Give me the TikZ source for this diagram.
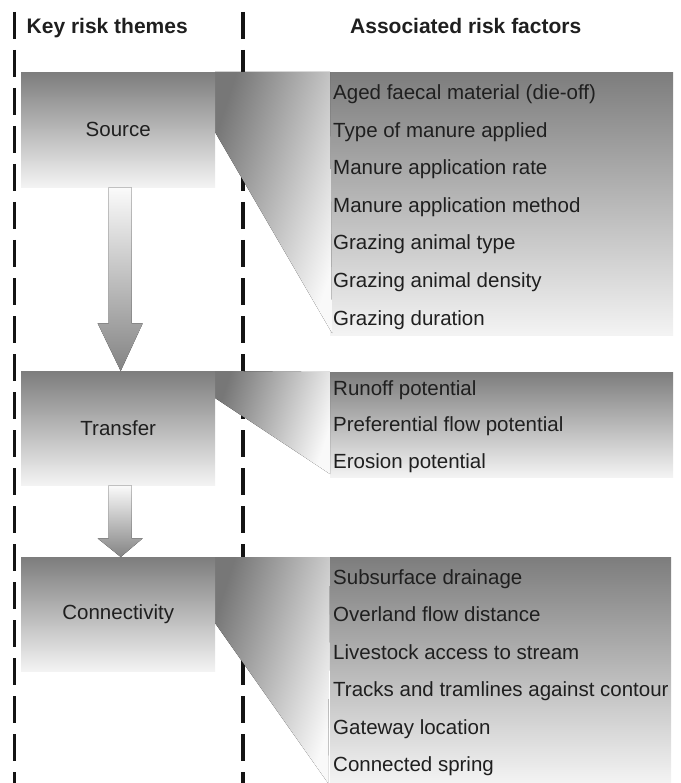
\documentclass[tikz,border=0pt]{standalone}
\usepackage{fontspec}
\setmainfont{Liberation Sans}
\usetikzlibrary{calc}
\definecolor{txt}{gray}{0.12}
\definecolor{dk}{gray}{0.49}
\definecolor{lt}{gray}{0.955}
\tikzset{
  themebox/.style={inner sep=0pt, anchor=north west, minimum width=194pt,
    top color=dk, bottom color=lt, text=txt, font=\fontsize{20.5}{24}\selectfont},
  panel/.style={inner sep=0pt, anchor=north west, minimum width=343pt,
    top color=dk, bottom color=lt},
  wedge/.style={top color=dk!95!black, bottom color=lt!50!white, shading angle=72},
  flowarrow/.style={top color=lt!40!white, bottom color=dk!95},
  factor/.style={anchor=base west, inner sep=0pt, text=txt, font=\fontsize{20.5}{24}\selectfont},
  header/.style={anchor=base west, inner sep=0pt, text=txt, font=\fontsize{21}{25}\selectfont\bfseries},
  divider/.style={draw=black!92, dash pattern=on 27pt off 11pt}
}
\begin{document}
\begin{tikzpicture}[x=1pt,y=-1pt]
\useasboundingbox (0,0) rectangle (680,783);
% dividers
\coordinate (la) at (14,12); \coordinate (lb) at (14,783);
\coordinate (ma) at (243,12); \coordinate (mb) at (243,783);
\draw[divider, line width=3pt] (la) -- (lb);
\draw[divider, line width=4pt] (ma) -- (mb);
% headers
\node[header] (h1) at (26.5,34) {Key risk themes};
\node[header] (h2) at (350,34) {Associated risk factors};
% panels
\node[panel, minimum height=263pt] (p1) at (330,72) {};
\node[panel, minimum height=105pt] (p2) at (330,372) {};
\node[panel, minimum height=226pt, minimum width=341pt] (p3) at (330,557) {};
% wedges
\fill[wedge] (215,72) -- (p1.north west) -- (332,333) -- (215,132) -- cycle;
\fill[wedge] (215,371) -- (p2.north west) -- (330,474) -- (215,398) -- cycle;
\fill[wedge] (215,557) -- (p3.north west) -- (328,783) -- (215,623) -- cycle;
% theme boxes
\node[themebox, minimum height=115pt] (source) at (21,72) {Source};
\node[themebox, minimum height=114pt] (transfer) at (21,371) {Transfer};
\node[themebox, minimum height=114pt] (conn) at (21,557) {Connectivity};
% arrows
\fill[flowarrow] ($(source.south)+(-9.5,0)$) -- ($(source.south)+(13.5,0)$)
  -- ($(source.south)+(13.5,136)$) -- ($(source.south)+(24.5,136)$)
  -- ($(transfer.north)+(2.5,0)$) -- ($(source.south)+(-20.5,136)$)
  -- ($(source.south)+(-9.5,136)$) -- cycle;
\fill[flowarrow] ($(transfer.south)+(-9.5,0)$) -- ($(transfer.south)+(13.5,0)$)
  -- ($(transfer.south)+(13.5,53)$) -- ($(transfer.south)+(24.5,53)$)
  -- ($(conn.north)+(2.5,0)$) -- ($(transfer.south)+(-20.5,53)$)
  -- ($(transfer.south)+(-9.5,53)$) -- cycle;
% factors
\node[factor] (s1) at (333,100) {Aged faecal material (die-off)};
\node[factor] (s2) at (333,137.5) {Type of manure applied};
\node[factor] (s3) at (333,175) {Manure application rate};
\node[factor] (s4) at (333,212.5) {Manure application method};
\node[factor] (s5) at (333,250) {Grazing animal type};
\node[factor] (s6) at (333,287.5) {Grazing animal density};
\node[factor] (s7) at (333,325) {Grazing duration};
\node[factor] (t1) at (333,395) {Runoff potential};
\node[factor] (t2) at (333,431.5) {Preferential flow potential};
\node[factor] (t3) at (333,468) {Erosion potential};
\node[factor] (c1) at (333,584) {Subsurface drainage};
\node[factor] (c2) at (333,621.5) {Overland flow distance};
\node[factor] (c3) at (333,659) {Livestock access to stream};
\node[factor] (c4) at (333,696.5) {Tracks and tramlines against contour};
\node[factor] (c5) at (333,734) {Gateway location};
\node[factor] (c6) at (333,771.5) {Connected spring};
\end{tikzpicture}
\end{document}
